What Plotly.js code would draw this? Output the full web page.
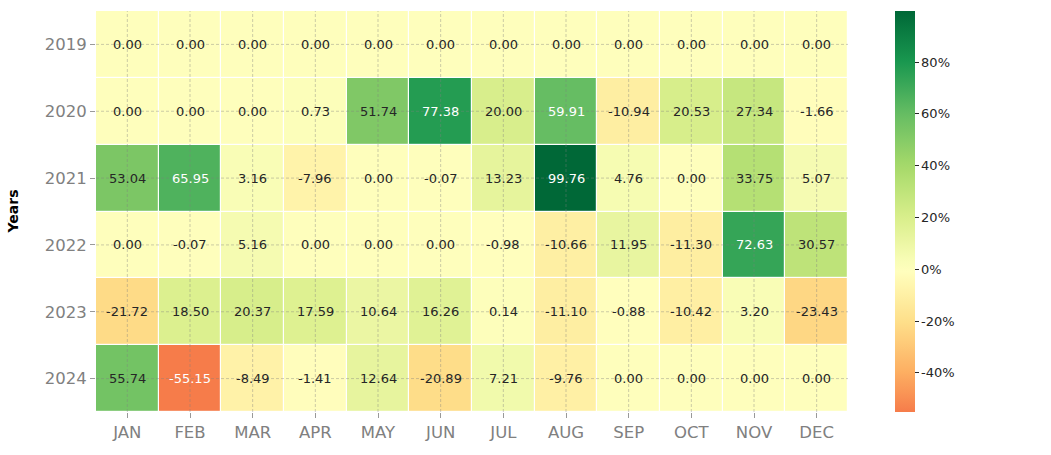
<!DOCTYPE html>
<html>
<head>
<meta charset="utf-8">
<script src="https://cdn.plot.ly/plotly-3.0.1.min.js"></script>
<style>html,body{margin:0;padding:0;background:#fff;}#chart{width:1051px;height:455px;}</style>
</head>
<body>
<div id="chart"></div>
<script>
const months = ["JAN","FEB","MAR","APR","MAY","JUN","JUL","AUG","SEP","OCT","NOV","DEC"];
const years = ["2019","2020","2021","2022","2023","2024"];
const r2019 = [0.00,0.00,0.00,0.00,0.00,0.00,0.00,0.00,0.00,0.00,0.00,0.00];
const r2020 = [0.00,0.00,0.00,0.73,51.74,77.38,20.00,59.91,-10.94,20.53,27.34,-1.66];
const r2021 = [53.04,65.95,3.16,-7.96,0.00,-0.07,13.23,99.76,4.76,0.00,33.75,5.07];
const r2022 = [0.00,-0.07,5.16,0.00,0.00,0.00,-0.98,-10.66,11.95,-11.30,72.63,30.57];
const r2023 = [-21.72,18.50,20.37,17.59,10.64,16.26,0.14,-11.10,-0.88,-10.42,3.20,-23.43];
const r2024 = [55.74,-55.15,-8.49,-1.41,12.64,-20.89,7.21,-9.76,0.00,0.00,0.00,0.00];
const z = [r2019,r2020,r2021,r2022,r2023,r2024];
const cbTicks = [-40,-20,0,20,40,60,80];

// RdYlGn (ColorBrewer 11) anchors
const rdylgn = ["#a50026","#d73027","#f46d43","#fdae61","#fee08b","#ffffbf","#d9ef8b","#a6d96a","#66bd63","#1a9850","#006837"];
function hex2rgb(h){return [parseInt(h.slice(1,3),16),parseInt(h.slice(3,5),16),parseInt(h.slice(5,7),16)];}
function cmapAt(t){
  t=Math.max(0,Math.min(1,t));
  const p=t*10, i=Math.min(9,Math.floor(p)), f=p-i;
  const a=hex2rgb(rdylgn[i]), b=hex2rgb(rdylgn[i+1]);
  return a.map((v,k)=>v+(b[k]-v)*f);
}
const flat=z.flat();
const vmin=Math.min(...flat), vmax=Math.max(...flat);
const vrange=Math.max(vmax,-vmin);
const cmin=(vmin+vrange)/(2*vrange), cmax=(vmax+vrange)/(2*vrange);
const colorscale=[];
const N=40;
for(let k=0;k<=N;k++){
  const t=cmin+(cmax-cmin)*k/N;
  const c=cmapAt(t).map(Math.round);
  colorscale.push([k/N,`rgb(${c[0]},${c[1]},${c[2]})`]);
}
function lum(c){
  const l=c.map(v=>{v/=255;return v<=0.03928?v/12.92:Math.pow((v+0.055)/1.055,2.4);});
  return 0.2126*l[0]+0.7152*l[1]+0.0722*l[2];
}
const annotations=[];
years.forEach((y,i)=>{
  months.forEach((m,j)=>{
    const v=z[i][j];
    const t=(v+vrange)/(2*vrange);
    const col=lum(cmapAt(t))>0.408?"#262626":"#ffffff";
    annotations.push({x:j,y:i,xref:"x",yref:"y",text:v.toFixed(2),showarrow:false,
      font:{family:"DejaVu Sans",size:13,color:col}});
  });
});
annotations.push({xref:"paper",yref:"paper",x:-84/752,y:0.5,xanchor:"center",yanchor:"middle",textangle:-90,
  text:"<b>Years</b>",showarrow:false,font:{family:"DejaVu Sans",size:14,color:"#000"}});
const shapes=[];
months.forEach((m,j)=>shapes.push({type:"line",xref:"x",yref:"paper",x0:j,x1:j,y0:0,y1:1,layer:"above",
  line:{color:"rgba(128,128,128,0.5)",width:0.8,dash:"3px,2px"}}));
years.forEach((y,i)=>shapes.push({type:"line",xref:"paper",yref:"y",x0:0,x1:1,y0:i,y1:i,layer:"above",
  line:{color:"rgba(128,128,128,0.5)",width:0.8,dash:"3px,2px"}}));

const trace={type:"heatmap",x:months,y:years,z:z,zmin:vmin,zmax:vmax,colorscale:colorscale,
  xgap:1.2,ygap:1.2,hoverinfo:"skip",
  colorbar:{x:(895-96)/752,xanchor:"left",xpad:0,ypad:0,y:0.5,yanchor:"middle",len:1,lenmode:"fraction",thickness:20,
    outlinewidth:0,tickmode:"array",tickvals:cbTicks,ticktext:cbTicks.map(v=>v+"%"),ticks:"outside",ticklen:4,tickcolor:"#262626",
    tickfont:{family:"DejaVu Sans",size:13,color:"#262626"}}};
const layout={width:1051,height:455,margin:{l:96,r:203,t:11,b:43},
  paper_bgcolor:"#fff",plot_bgcolor:"#fff",
  font:{family:"DejaVu Sans"},
  xaxis:{type:"category",range:[-0.5,11.5],showgrid:false,zeroline:false,ticks:"outside",ticklen:5,tickcolor:"#999",
    tickfont:{size:16.5,color:"#808080"},showline:false},
  yaxis:{type:"category",range:[5.5,-0.5],showgrid:false,zeroline:false,ticks:"outside",ticklen:5,tickcolor:"#999",
    tickfont:{size:16.5,color:"#808080"},showline:false},
  annotations:annotations,shapes:shapes};
Plotly.newPlot("chart",[trace],layout,{displayModeBar:false,staticPlot:true});
</script>
</body>
</html>
